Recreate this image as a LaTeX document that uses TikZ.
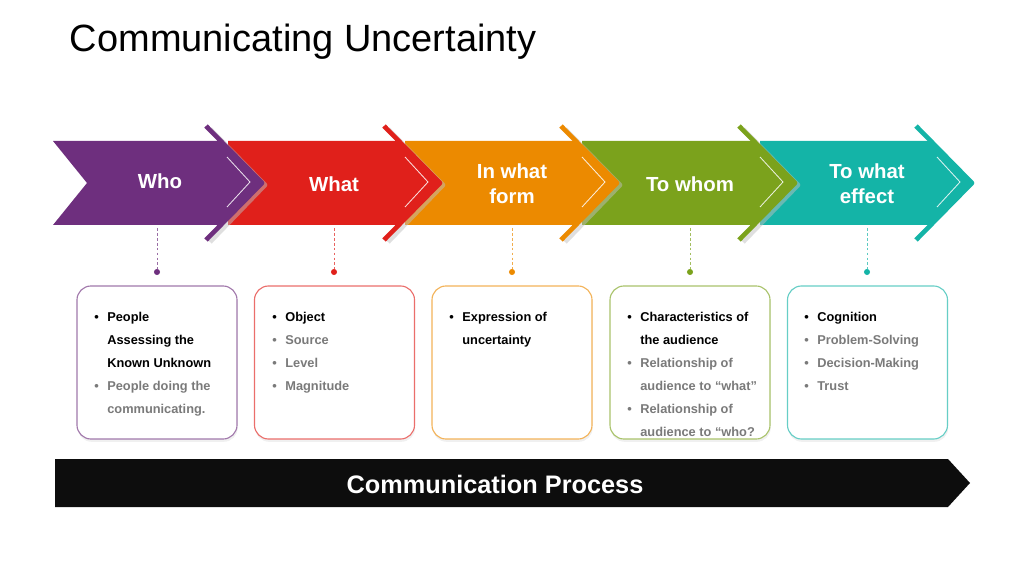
\documentclass[tikz,border=0pt]{standalone}
\usepackage{fontspec}
\setmainfont{Liberation Sans}
\usetikzlibrary{positioning, shadows}

\definecolor{cwho}{HTML}{6E2F7E}
\definecolor{cwhat}{HTML}{E0201B}
\definecolor{cform}{HTML}{EC8A00}
\definecolor{cwhom}{HTML}{7BA21C}
\definecolor{ceffect}{HTML}{14B4A7}
\definecolor{greytext}{HTML}{7A7A7A}

\newcommand{\bul}{\makebox[9.3pt][l]{\textbullet}}
\newcommand{\bulgap}{\hspace*{9.3pt}}

\tikzset{
  headtext/.style={text=white, font=\bfseries\fontsize{14.5}{18}\selectfont, align=center},
  band/.style={line width=3.3pt, line join=round},
  shine/.style={white, opacity=.85, line width=.6pt},
  dotline/.style={dashed, line width=.4pt, dash pattern=on 2pt off 1.5pt},
  dotnode/.style={circle, inner sep=0pt, minimum size=4.3pt},
  itembox/.style={draw=#1!65, line width=.8pt, rounded corners=10pt, fill=white,
    minimum width=4cm, minimum height=3.825cm,
    drop shadow={opacity=.12, shadow xshift=.5pt, shadow yshift=-2pt}},
  itemtext/.style={anchor=north west, inner sep=0pt, align=left,
    font=\bfseries\fontsize{9.1}{16.4}\selectfont}
}

\begin{document}
\begin{tikzpicture}[x=0.025cm, y=-0.025cm]
\useasboundingbox (0,0) rectangle (1024,576);

\node[anchor=west, font=\fontsize{27}{32}\selectfont] (title) at (65,42) {Communicating Uncertainty};

% chevrons, drawn from the right so each head lies over the next body
\fill[ceffect] (760,141) -- (930,141) -- (972,183) -- (930,225) -- (760,225) -- cycle;
\draw[band, ceffect] (916,126) -- (972,183) -- (916,240);
\draw[shine] (937,157) -- (960,182) -- (937,207);
\draw[band, black!25, opacity=.5] (743,129) -- (798,185) -- (743,242);
\fill[cwhom] (582,141) -- (753,141) -- (795,183) -- (753,225) -- (582,225) -- cycle;
\draw[band, cwhom] (739,126) -- (795,183) -- (739,240);
\draw[shine] (760,157) -- (783,182) -- (760,207);
\draw[band, black!25, opacity=.5] (565,129) -- (620,185) -- (565,242);
\fill[cform] (405,141) -- (575,141) -- (617,183) -- (575,225) -- (405,225) -- cycle;
\draw[band, cform] (561,126) -- (617,183) -- (561,240);
\draw[shine] (582,157) -- (605,182) -- (582,207);
\draw[band, black!25, opacity=.5] (388,129) -- (443,185) -- (388,242);
\fill[cwhat] (228,141) -- (398,141) -- (440,183) -- (398,225) -- (228,225) -- cycle;
\draw[band, cwhat] (384,126) -- (440,183) -- (384,240);
\draw[shine] (405,157) -- (428,182) -- (405,207);
\draw[band, black!25, opacity=.5] (210,129) -- (265,185) -- (210,242);
\fill[cwho] (53,141) -- (220,141) -- (262,183) -- (220,225) -- (53,225) -- (87,183) -- cycle;
\draw[band, cwho] (206,126) -- (262,183) -- (206,240);
\draw[shine] (227,157) -- (250,182) -- (227,207);

\node[headtext] (who) at (160,181) {Who};
\node[headtext] (what) at (334,184) {What};
\node[headtext] (form) at (512,184) {In what\\form};
\node[headtext] (whom) at (690,184) {To whom};
\node[headtext] (effect) at (867,184) {To what\\effect};

% dashed drops
\coordinate (whofoot) at (157,228);
\coordinate (whatfoot) at (334,228);
\coordinate (formfoot) at (512,228);
\coordinate (whomfoot) at (690,228);
\coordinate (effectfoot) at (867,228);
\node[dotnode, fill=cwho] (whodot) at (157,272) {};
\node[dotnode, fill=cwhat] (whatdot) at (334,272) {};
\node[dotnode, fill=cform] (formdot) at (512,272) {};
\node[dotnode, fill=cwhom] (whomdot) at (690,272) {};
\node[dotnode, fill=ceffect] (effectdot) at (867,272) {};
\draw[dotline, cwho!70] (whofoot) -- (whodot);
\draw[dotline, cwhat!70] (whatfoot) -- (whatdot);
\draw[dotline, cform!70] (formfoot) -- (formdot);
\draw[dotline, cwhom!70] (whomfoot) -- (whomdot);
\draw[dotline, ceffect!70] (effectfoot) -- (effectdot);

% boxes
\node[itembox=cwho] (whobox) at (157,362.5) {};
\node[itembox=cwhat] (whatbox) at (334.5,362.5) {};
\node[itembox=cform] (formbox) at (512,362.5) {};
\node[itembox=cwhom] (whombox) at (690,362.5) {};
\node[itembox=ceffect] (effectbox) at (867.5,362.5) {};

\node[itemtext] (whotext) at (94,312) {\bul People\\ \bulgap Assessing the\\ \bulgap Known Unknown\\
  \color{greytext}\bul People doing the\\ \color{greytext}\bulgap communicating.};
\node[itemtext] (whattext) at (272,312) {\bul Object\\ \color{greytext}\bul Source\\
  \color{greytext}\bul Level\\ \color{greytext}\bul Magnitude};
\node[itemtext] (formtext) at (449,312) {\bul Expression of\\ \bulgap uncertainty};
\node[itemtext] (whomtext) at (627,312) {\bul Characteristics of\\ \bulgap the audience\\
  \color{greytext}\bul Relationship of\\ \color{greytext}\bulgap audience to “what”\\
  \color{greytext}\bul Relationship of\\ \color{greytext}\bulgap audience to “who?};
\node[itemtext] (effecttext) at (804,312) {\bul Cognition\\ \color{greytext}\bul Problem-Solving\\
  \color{greytext}\bul Decision-Making\\ \color{greytext}\bul Trust};

% process bar
\fill[black!95] (55,459) -- (948,459) -- (970,483) -- (948,507) -- (55,507) -- cycle;
\node[text=white, font=\bfseries\fontsize{18}{22}\selectfont] (process) at (495,484) {Communication Process};
\end{tikzpicture}
\end{document}
